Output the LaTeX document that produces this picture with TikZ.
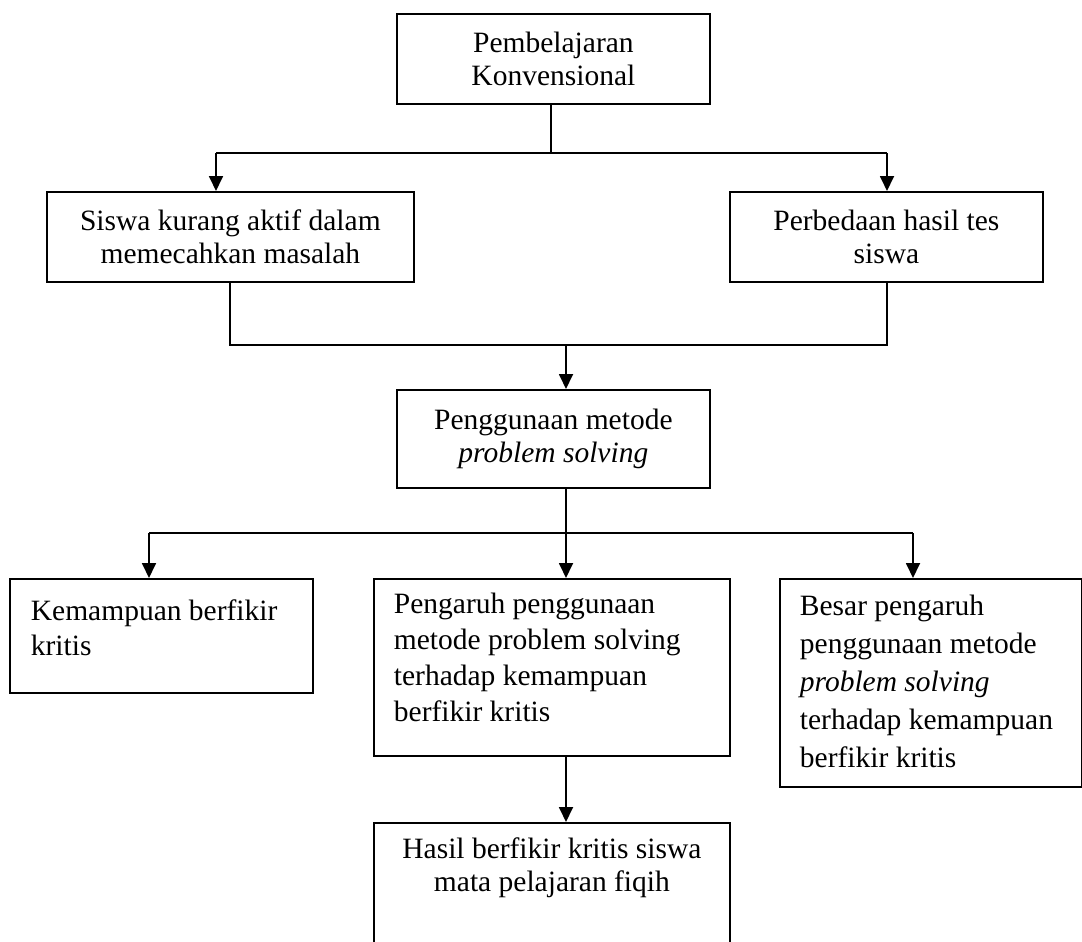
\documentclass[tikz,border=0pt]{standalone}
\usepackage{fontspec}
\setmainfont{Liberation Serif}
\usetikzlibrary{arrows.meta}
\begin{document}
\begin{tikzpicture}[x=1pt,y=-1pt,
  box/.style={draw,line width=1.8pt,inner sep=0pt,anchor=north west},
  conn/.style={line width=1.8pt},
  arr/.style={conn,-{Triangle[length=15pt,width=14pt]}}]
\useasboundingbox (0,0) rectangle (1082,942);
\clip (0,0) rectangle (1082,942);
% boxes
\node[box] (top) at (396,13) {\parbox[c][90pt][c]{313pt}{\centering\fontsize{29.5}{33}\selectfont Pembelajaran\\Konvensional}};
\node[box] (left) at (46,191) {\parbox[c][90pt][c]{367pt}{\centering\fontsize{29.5}{33}\selectfont Siswa kurang aktif dalam\\memecahkan masalah}};
\node[box] (right) at (729,191) {\parbox[c][90pt][c]{313pt}{\centering\fontsize{29.5}{33}\selectfont Perbedaan hasil tes\\siswa}};
\node[box] (mid) at (396,389) {\parbox[c][98pt][c]{313pt}{\centering\fontsize{29.5}{33}\selectfont Penggunaan metode\\\textit{problem solving}}};
\node[box] (kem) at (9,578) {\parbox[c][114pt][t]{303pt}{\fontsize{29.5}{35}\selectfont\raggedright\leftskip=21pt\rule{0pt}{42pt}Kemampuan berfikir\\kritis}};
\node[box] (peng) at (373,578) {\parbox[c][177pt][t]{356pt}{\fontsize{29.5}{36}\selectfont\raggedright\leftskip=20pt\rule{0pt}{35pt}Pengaruh penggunaan\\metode problem solving\\terhadap kemampuan\\berfikir kritis}};
\node[box] (besar) at (779,578) {\parbox[c][208pt][t]{302pt}{\fontsize{29.5}{38}\selectfont\raggedright\leftskip=20pt\rule{0pt}{37pt}Besar pengaruh\\penggunaan metode\\\textit{problem solving}\\terhadap kemampuan\\berfikir kritis}};
\node[box] (hasil) at (373,822) {\parbox[c][140pt][t]{356pt}{\fontsize{29.5}{33}\selectfont\centering\rule{0pt}{36pt}Hasil berfikir kritis siswa\\mata pelajaran fiqih}};
% junction coordinates
\coordinate (jT) at (551,153);
\coordinate (aL) at (216,153);
\coordinate (aR) at (887,153);
\coordinate (bL) at (230,345);
\coordinate (bR) at (887,345);
\coordinate (bM) at (566,345);
\coordinate (cL) at (149,533);
\coordinate (cM) at (566,533);
\coordinate (cR) at (913,533);
% connectors
\draw[conn] (top.south -| jT) -- (jT);
\draw[conn] (aL) -- (aR);
\draw[arr] (aL) -- (aL |- left.north);
\draw[arr] (aR) -- (aR |- right.north);
\draw[conn] (bL |- left.south) -- (bL) -- (bR) -- (bR |- right.south);
\draw[arr] (bM) -- (bM |- mid.north);
\draw[conn] (cM |- mid.south) -- (cM);
\draw[conn] (cL) -- (cR);
\draw[arr] (cL) -- (cL |- kem.north);
\draw[arr] (cM) -- (cM |- peng.north);
\draw[arr] (cR) -- (cR |- besar.north);
\draw[arr] (cM |- peng.south) -- (cM |- hasil.north);
\end{tikzpicture}
\end{document}
